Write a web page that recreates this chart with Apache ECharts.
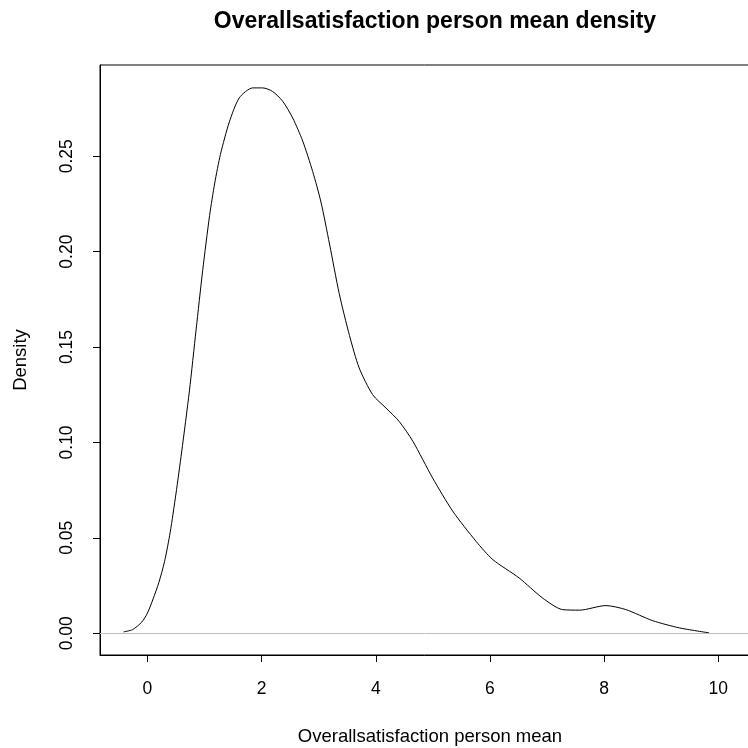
<!DOCTYPE html>
<html>
<head>
<meta charset="utf-8">
<script src="https://cdn.jsdelivr.net/npm/echarts@6/dist/echarts.min.js"></script>
<style>html,body{margin:0;padding:0;background:#fff;}#c{width:748px;height:748px;}</style>
</head>
<body>
<div id="c"></div>
<script>
const titleText = "Overallsatisfaction person mean density";
const xTitle = "Overallsatisfaction person mean";
const yTitle = "Density";
const xTicks = [0, 2, 4, 6, 8, 10];
const yTicks = [0, 0.05, 0.10, 0.15, 0.20, 0.25];
const xVals = [-0.42, -0.26, -0.1, 0.0, 0.1, 0.2, 0.3, 0.4, 0.5, 0.6, 0.736, 0.853, 0.968, 1.09, 1.18, 1.28, 1.436, 1.61, 1.845, 2.02, 2.19, 2.37, 2.545, 2.72, 2.895, 3.04, 3.19, 3.36, 3.54, 3.71, 3.946, 4.18, 4.41, 4.65, 4.995, 5.35, 5.756, 6.05, 6.51, 6.92, 7.27, 7.57, 8.03, 8.38, 8.85, 9.32, 9.84];
const dens = [0.0007, 0.0019, 0.0058, 0.0105, 0.0180, 0.0265, 0.0375, 0.053, 0.073, 0.095, 0.127, 0.159, 0.190, 0.219, 0.236, 0.251, 0.268, 0.2806, 0.2858, 0.2858, 0.284, 0.2788, 0.270, 0.258, 0.242, 0.226, 0.204, 0.178, 0.156, 0.139, 0.125, 0.118, 0.111, 0.1006, 0.0814, 0.0639, 0.0482, 0.0386, 0.029, 0.0185, 0.0124, 0.0121, 0.0145, 0.0124, 0.0066, 0.0028, 0.0002];

const font = "'Liberation Sans', Arial, sans-serif";
const chart = echarts.init(document.getElementById('c'), null, {renderer: 'canvas'});
chart.setOption({
  animation: false,
  backgroundColor: '#fff',
  title: {
    text: titleText, left: 430, top: 5, textAlign: 'center',
    textStyle: {fontFamily: font, fontSize: 23, fontWeight: 'bold', color: '#000'}
  },
  grid: {
    left: 100, top: 65, width: 660, height: 590,
    show: true, borderColor: '#000', borderWidth: 1, backgroundColor: 'transparent',
    containLabel: false, outerBoundsMode: 'none'
  },
  xAxis: {
    type: 'value', min: -0.83, max: 10.73,
    name: xTitle, nameLocation: 'middle', nameGap: 72,
    nameTextStyle: {fontFamily: font, fontSize: 18.5, color: '#000'},
    axisLine: {show: true, onZero: false, lineStyle: {color: '#000', width: 1}},
    axisTick: {show: true, inside: false, length: 7, customValues: xTicks, lineStyle: {color: '#000'}},
    axisLabel: {customValues: xTicks, margin: 25, fontFamily: font, fontSize: 17.5, color: '#000'},
    splitLine: {show: false}
  },
  yAxis: {
    type: 'value', min: -0.0114, max: 0.2978,
    name: yTitle, nameLocation: 'middle', nameGap: 70, nameRotate: 90,
    nameTextStyle: {fontFamily: font, fontSize: 18.5, color: '#000'},
    axisLine: {show: true, onZero: false, lineStyle: {color: '#000', width: 1}},
    axisTick: {show: true, inside: false, length: 7, customValues: yTicks, lineStyle: {color: '#000'}},
    axisLabel: {customValues: yTicks, rotate: 90, margin: 24, fontFamily: font, fontSize: 17.5, color: '#000',
      formatter: v => v.toFixed(2)},
    splitLine: {show: false}
  },
  series: [{
    type: 'line',
    data: xVals.map((x, i) => [x, dens[i]]),
    smooth: 0.25,
    showSymbol: false,
    lineStyle: {color: '#000', width: 1},
    markLine: {
      silent: true, symbol: 'none', label: {show: false},
      lineStyle: {color: '#bebebe', type: 'solid', width: 1},
      data: [{yAxis: 0}]
    },
    z: 3
  }]
});
</script>
</body>
</html>
